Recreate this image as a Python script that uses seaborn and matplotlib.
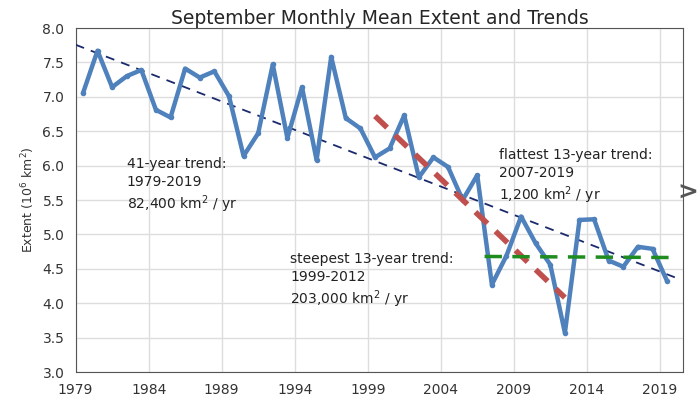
import numpy as np
import matplotlib
matplotlib.use("Agg")
import matplotlib.pyplot as plt
import seaborn as sns

years = list(range(1979, 2020))
extent = [7.05, 7.67, 7.14, 7.30, 7.39, 6.81, 6.70, 7.41, 7.28, 7.37, 7.01, 6.14, 6.47,
          7.47, 6.40, 7.14, 6.08, 7.58, 6.69, 6.54, 6.12, 6.25, 6.73, 5.83, 6.12, 5.98,
          5.50, 5.86, 4.27, 4.69, 5.26, 4.87, 4.56, 3.57, 5.21, 5.22, 4.62, 4.53, 4.82,
          4.79, 4.32]
xticks = [1979, 1984, 1989, 1994, 1999, 2004, 2009, 2014, 2019]
# stated trend slopes (10^6 km^2 / yr)
slope_41 = -0.0824
slope_steep = -0.203
slope_flat = -0.0012

sns.set_theme(style="whitegrid")
plt.rcParams['font.family'] = ['DejaVu Sans']
fig = plt.figure(figsize=(7, 4), dpi=100)
ax = fig.add_axes([0.108, 0.07, 0.868, 0.86])

x = np.array(years) + 0.5
y = np.array(extent)

def trend(y0, y1, slope, xs0, xs1):
    m = (x >= y0 + 0.5) & (x <= y1 + 0.5)
    xm, ym = x[m].mean(), y[m].mean()
    xs = np.array([xs0, xs1])
    return xs, ym + slope * (xs - xm)

xs, ys = trend(1979, 2019, slope_41, 1979, 2020.3)
ax.plot(xs, ys, color="#1a2a6c", lw=1.3, ls=(0, (5, 4)), zorder=3)
sns.lineplot(x=x, y=y, ax=ax, color="#4f81bd", lw=3.2, marker="o", markersize=4,
             markeredgewidth=0, zorder=4)
xs, ys = trend(1999, 2012, slope_steep, 1999.5, 2012.5)
ax.plot(xs, ys, color="#c0504d", lw=4, ls=(0, (3, 2)), zorder=5)
xs, ys = trend(2007, 2019, slope_flat, 2007.0, 2020.3)
ax.plot(xs, ys, color="#1e8c1e", lw=2.5, ls=(0, (5, 3)), zorder=5)

ax.set_xlim(1979, 2020.6)
ax.set_ylim(3.0, 8.0)
ax.set_xticks(xticks)
ax.set_yticks(np.arange(3.0, 8.01, 0.5))
ax.set_yticklabels([f"{v:.1f}" for v in np.arange(3.0, 8.01, 0.5)])
ax.tick_params(labelsize=10, colors="#333333", pad=2)
ax.grid(color="#dddddd", lw=1)
for s in ax.spines.values():
    s.set_color("#555555"); s.set_linewidth(0.8)
ax.set_ylabel("Extent (10$^6$ km$^2$)", fontsize=9, color="#333333")
ax.set_title("September Monthly Mean Extent and Trends", fontsize=13.5, pad=3)

kw = dict(fontsize=10, color="#222222", linespacing=1.3, va="top")
ax.text(1982.5, 6.12, "41-year trend:\n1979-2019\n82,400 km$^2$ / yr", **kw)
ax.text(1993.7, 4.74, "steepest 13-year trend:\n1999-2012\n203,000 km$^2$ / yr", **kw)
ax.text(2008.0, 6.25, "flattest 13-year trend:\n2007-2019\n1,200 km$^2$ / yr", **kw)
fig.text(0.998, 0.50, ">", fontsize=18, fontweight="bold", color="#555555", ha="right")

fig.savefig("out.png", dpi=100)
